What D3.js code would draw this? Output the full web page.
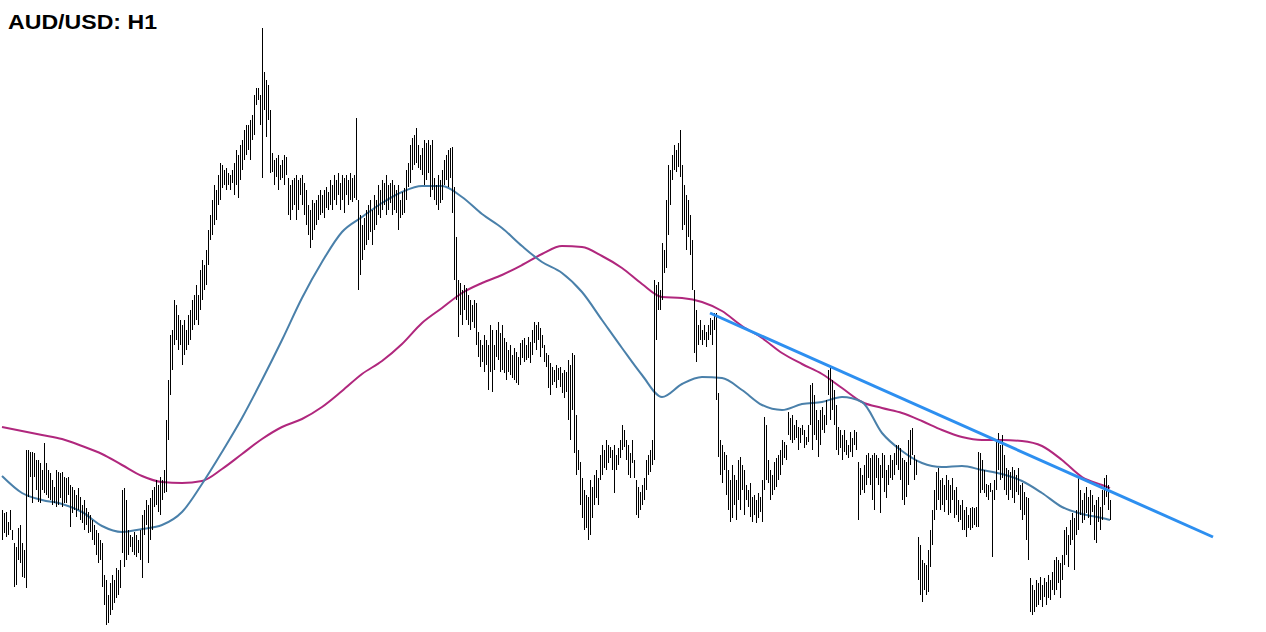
<!DOCTYPE html>
<html>
<head>
<meta charset="utf-8">
<script src="https://cdn.jsdelivr.net/npm/d3@7"></script>
<style>
  html, body { margin: 0; padding: 0; background: #ffffff; }
  svg { display: block; }
</style>
</head>
<body>
<div id="chart"></div>
<script>
// AUD/USD hourly bars, prices in pips (x 1e-4)
const title = 'AUD/USD: H1'

const high = [
  7490,7487,7488,7478,7490,7470,7457,7453,7472,7475,
  7457,7450,7550,7550,7548,7548,7547,7540,7540,7537,
  7530,7557,7537,7530,7527,7520,7513,7530,7528,7527,
  7528,7523,7522,7523,7515,7513,7510,7505,7512,7503,
  7495,7500,7492,7488,7485,7480,7475,7470,7467,7460,
  7457,7425,7420,7405,7417,7425,7420,7432,7430,7440,
  7510,7512,7500,7470,7465,7463,7468,7465,7460,7470,
  7485,7490,7500,7495,7502,7510,7513,7520,7515,7523,
  7520,7530,7580,7620,7665,7670,7700,7695,7685,7680,
  7675,7680,7670,7685,7690,7700,7705,7715,7705,7730,
  7740,7735,7750,7770,7785,7800,7815,7810,7825,7837,
  7835,7830,7832,7827,7825,7830,7837,7850,7845,7855,
  7860,7870,7875,7875,7880,7885,7905,7912,7912,7905,
  7972,7928,7920,7915,7890,7847,7840,7842,7845,7835,
  7840,7845,7843,7822,7815,7820,7822,7825,7820,7822,
  7825,7817,7810,7795,7790,7800,7797,7800,7805,7810,
  7805,7810,7813,7808,7820,7815,7825,7820,7827,7817,
  7825,7822,7825,7820,7827,7822,7825,7882,7800,7785,
  7775,7782,7790,7795,7800,7790,7805,7800,7815,7810,
  7820,7817,7825,7815,7817,7820,7815,7810,7815,7800,
  7808,7812,7830,7837,7855,7862,7865,7872,7855,7845,
  7852,7860,7857,7860,7855,7860,7822,7815,7825,7820,
  7830,7840,7845,7850,7852,7853,7813,7763,7720,7717,
  7710,7715,7712,7705,7700,7695,7700,7697,7668,7660,
  7655,7665,7660,7655,7675,7670,7655,7670,7678,7667,
  7675,7662,7658,7650,7655,7645,7652,7648,7643,7657,
  7660,7662,7655,7663,7658,7670,7678,7675,7678,7672,
  7665,7655,7647,7645,7637,7633,7630,7635,7632,7633,
  7627,7630,7628,7640,7635,7647,7645,7585,7550,7538,
  7522,7510,7505,7503,7520,7513,7525,7530,7522,7545,
  7555,7550,7560,7555,7553,7550,7555,7545,7552,7560,
  7575,7570,7560,7555,7547,7560,7540,7520,7513,7508,
  7515,7522,7540,7545,7550,7560,7720,7715,7718,7710,
  7757,7750,7800,7835,7830,7845,7855,7850,7857,7870,
  7835,7815,7805,7800,7785,7760,7710,7690,7675,7680,
  7670,7675,7668,7675,7682,7680,7687,7687,7607,7560,
  7555,7548,7545,7530,7520,7535,7525,7520,7540,7543,
  7535,7530,7515,7510,7517,7503,7505,7500,7507,7503,
  7520,7583,7575,7540,7530,7525,7538,7542,7545,7550,
  7560,7558,7555,7588,7582,7585,7575,7580,7573,7572,
  7575,7570,7563,7575,7615,7617,7605,7590,7580,7590,
  7593,7585,7600,7630,7632,7620,7610,7595,7573,7570,
  7565,7570,7560,7555,7568,7562,7570,7568,7538,7532,
  7525,7535,7545,7547,7542,7545,7547,7545,7542,7535,
  7547,7545,7530,7535,7545,7540,7547,7555,7555,7552,
  7542,7540,7538,7560,7570,7572,7545,7540,7463,7455,
  7440,7437,7435,7450,7470,7490,7510,7528,7532,7520,
  7522,7515,7525,7520,7515,7522,7510,7513,7500,7495,
  7500,7490,7493,7485,7492,7493,7492,7493,7548,7547,
  7540,7530,7516,7515,7517,7510,7520,7560,7567,7555,
  7565,7545,7532,7530,7528,7533,7530,7525,7532,7515,
  7517,7508,7503,7502,7422,7415,7410,7420,7417,7423,
  7415,7422,7418,7425,7420,7428,7440,7443,7440,7437,
  7445,7470,7473,7465,7480,7487,7482,7490,7522,7510,
  7500,7507,7513,7503,7510,7505,7495,7500,7503,7493,
  7510,7522,7525,7515,7500
]

const low = [
  7460,7467,7463,7465,7470,7460,7413,7415,7440,7437,
  7423,7422,7412,7503,7523,7497,7523,7510,7498,7497,
  7510,7507,7505,7502,7500,7495,7497,7493,7495,7502,
  7493,7497,7497,7505,7473,7487,7490,7483,7490,7480,
  7477,7470,7475,7467,7468,7460,7455,7445,7437,7440,
  7413,7395,7375,7377,7385,7390,7397,7402,7405,7412,
  7447,7433,7440,7445,7453,7448,7445,7443,7447,7440,
  7422,7465,7475,7437,7460,7470,7493,7495,7488,7485,
  7500,7507,7508,7560,7605,7630,7655,7660,7650,7655,
  7635,7645,7650,7655,7660,7670,7675,7680,7675,7690,
  7700,7710,7715,7735,7760,7765,7775,7780,7795,7800,
  7812,7815,7810,7815,7810,7817,7805,7815,7802,7820,
  7830,7840,7845,7850,7840,7860,7865,7895,7900,7875,
  7822,7890,7863,7880,7827,7828,7815,7823,7810,7820,
  7822,7815,7825,7785,7780,7790,7795,7780,7790,7805,
  7795,7785,7775,7765,7752,7760,7770,7775,7780,7785,
  7787,7782,7792,7790,7795,7790,7800,7795,7805,7790,
  7800,7787,7805,7795,7800,7798,7802,7800,7710,7725,
  7740,7750,7755,7760,7768,7755,7770,7775,7785,7782,
  7790,7795,7785,7790,7797,7785,7790,7787,7770,7782,
  7785,7787,7800,7813,7817,7830,7835,7837,7832,7830,
  7825,7815,7820,7827,7803,7810,7800,7795,7790,7797,
  7800,7815,7820,7813,7822,7787,7720,7700,7663,7685,
  7675,7690,7680,7675,7670,7678,7672,7655,7643,7633,
  7638,7628,7635,7610,7628,7608,7630,7643,7640,7628,
  7630,7627,7620,7628,7625,7622,7620,7617,7615,7635,
  7642,7638,7640,7642,7637,7645,7657,7650,7660,7643,
  7652,7638,7633,7612,7605,7615,7618,7612,7620,7613,
  7607,7602,7608,7580,7560,7590,7547,7525,7530,7495,
  7482,7470,7472,7460,7465,7482,7495,7502,7495,7520,
  7525,7532,7530,7537,7542,7530,7507,7530,7535,7542,
  7550,7553,7540,7525,7522,7537,7522,7485,7482,7490,
  7495,7500,7510,7525,7528,7535,7540,7660,7690,7690,
  7700,7727,7732,7765,7795,7820,7830,7828,7833,7823,
  7770,7775,7750,7763,7745,7710,7647,7638,7655,7660,
  7655,7660,7653,7660,7665,7655,7670,7600,7543,7525,
  7517,7530,7505,7490,7478,7482,7495,7480,7500,7490,
  7510,7485,7500,7493,7483,7478,7485,7477,7482,7488,
  7478,7510,7520,7517,7500,7505,7510,7513,7520,7525,
  7535,7542,7540,7565,7560,7557,7560,7562,7550,7557,
  7565,7552,7555,7558,7575,7550,7565,7560,7543,7555,
  7570,7567,7575,7605,7580,7590,7575,7550,7545,7552,
  7540,7548,7545,7542,7548,7543,7555,7550,7480,7505,
  7510,7507,7515,7522,7515,7500,7490,7522,7515,7487,
  7522,7508,7502,7515,7522,7520,7525,7535,7530,7520,
  7500,7495,7503,7515,7535,7545,7520,7525,7420,7405,
  7398,7410,7405,7408,7433,7455,7480,7490,7500,7490,
  7495,7488,7500,7485,7487,7500,7482,7485,7478,7480,
  7470,7470,7463,7472,7470,7472,7475,7473,7473,7507,
  7510,7507,7503,7500,7508,7443,7500,7510,7530,7520,
  7522,7510,7505,7500,7510,7502,7497,7508,7505,7490,
  7480,7485,7460,7440,7388,7385,7388,7393,7395,7400,
  7393,7403,7395,7402,7400,7410,7405,7410,7417,7402,
  7420,7435,7445,7433,7455,7460,7430,7465,7470,7485,
  7477,7480,7487,7482,7475,7488,7460,7457,7478,7470,
  7480,7495,7503,7490,7480
]

// moving averages, read every 10 bars
const maIdx = [
  0,10,20,30,40,50,60,70,80,90,100,110,120,130,140,150,160,170,180,190,
  200,210,220,230,240,250,260,270,280,290,300,310,320,330,340,350,360,370,380,390,
  400,410,420,430,440,450,460,470,480,490,500,510,520,530,540,550,554
]
const maFast = [
  7524,7507,7500,7496,7488,7474,7468,7471,7475,7488,
  7516,7548,7582,7620,7660,7702,7738,7768,7783,7797,
  7808,7814,7814,7803,7786,7772,7754,7738,7727,7708,
  7680,7652,7625,7603,7616,7623,7622,7610,7595,7590,
  7596,7598,7603,7598,7567,7549,7537,7533,7534,7530,
  7526,7519,7507,7493,7486,7482,7480
]
const maSlow = [
  7573,7569,7565,7561,7554,7546,7535,7524,7518,7517,
  7519,7531,7546,7561,7573,7581,7593,7609,7626,7639,
  7656,7677,7692,7707,7717,7725,7735,7746,7754,7753,
  7744,7732,7716,7703,7702,7698,7689,7674,7662,7647,
  7636,7626,7612,7598,7592,7587,7579,7570,7563,7560,
  7560,7559,7554,7540,7523,7515,7512
]

// trend line anchors (bar index, price)
const trendIdx = [354, 605.5]
const trendPrice = [7687, 7463]

const width = 1266
const height = 632

const svg = d3.select('#chart').append('svg')
    .attr('width', width)
    .attr('height', height)

const x = d3.scaleLinear()
    .domain([0, high.length - 1])
    .range([2, 1110])

const y = d3.scaleLinear()
    .domain([7368, 8000])
    .range([height, 0])

// slow MA
svg.append('path')
    .datum(maIdx.map((d, i) => ({i: d, v: maSlow[i]})))
    .attr('fill', 'none')
    .attr('stroke', '#b0277d')
    .attr('stroke-width', 2)
    .attr('d', d3.line()
        .curve(d3.curveMonotoneX)
        .x(d => x(d.i))
        .y(d => y(d.v)))

// fast MA
svg.append('path')
    .datum(maIdx.map((d, i) => ({i: d, v: maFast[i]})))
    .attr('fill', 'none')
    .attr('stroke', '#4a80aa')
    .attr('stroke-width', 2)
    .attr('d', d3.line()
        .curve(d3.curveMonotoneX)
        .x(d => x(d.i))
        .y(d => y(d.v)))

// bars
svg.append('g')
    .selectAll('line')
    .data(high)
    .join('line')
    .attr('x1', (d, i) => Math.round(x(i)) + 0.5)
    .attr('x2', (d, i) => Math.round(x(i)) + 0.5)
    .attr('y1', d => y(d))
    .attr('y2', (d, i) => y(low[i]))
    .attr('stroke', '#000')
    .attr('stroke-width', 1)
    .attr('shape-rendering', 'crispEdges')

// trend line
svg.append('line')
    .attr('x1', x(trendIdx[0]))
    .attr('y1', y(trendPrice[0]))
    .attr('x2', x(trendIdx[1]))
    .attr('y2', y(trendPrice[1]))
    .attr('stroke', '#2d8ff0')
    .attr('stroke-width', 3)

svg.append('text')
    .attr('x', 8)
    .attr('y', 29)
    .attr('font-family', 'Liberation Sans, Arial, sans-serif')
    .attr('font-weight', 'bold')
    .attr('font-size', '21px')
    .attr('textLength', 149)
    .attr('lengthAdjust', 'spacingAndGlyphs')
    .attr('fill', '#000')
    .text(title)
</script>
</body>
</html>
